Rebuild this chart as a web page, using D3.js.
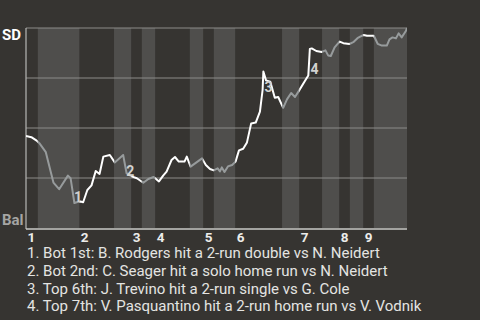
<!DOCTYPE html>
<html>
<head>
<meta charset="utf-8">
<script src="https://cdn.jsdelivr.net/npm/d3@7"></script>
<style>
  html, body { margin: 0; padding: 0; background: #363431; }
  svg { display: block; font-family: Roboto, "Noto Sans", sans-serif; }
</style>
</head>
<body>
<div class="wp-chart"></div>
<script>
// game progress (0-100) and SD win probability at each play
var playX = [0, 1.4, 2.8, 3.5, 5.2, 7.2, 8.7, 11.0, 11.7, 12.7, 13.5, 14.3, 15.0, 16.1, 17.2, 18.3, 19.3, 20.3, 22.0, 23.3,
	25.5, 26.4, 27.7, 29.1, 30.8, 32.1, 33.5, 34.9, 36.0, 36.9, 38.2, 39.1, 40.1, 41.6, 42.2, 43.2, 46.2, 47.2, 48.3, 49.3,
	50.3, 50.9, 51.4, 52.1, 53.0, 54.1, 55.0, 55.9, 57.0, 58.0, 59.1, 60.3, 61.4, 62.1, 62.3, 63.0, 64.1, 65.3, 66.2, 67.5,
	68.5, 69.6, 70.6, 71.5, 73.2, 74.1, 74.5, 75.0, 76.2, 77.6, 78.6, 79.3, 80.0, 81.0, 82.3, 83.3, 84.9, 85.9, 87.0, 87.7,
	88.6, 89.5, 91.3, 92.3, 93.4, 94.7, 95.4, 96.2, 97.1, 97.8, 98.6, 99.7, 100];
var winProb = [0.460, 0.454, 0.437, 0.424, 0.379, 0.227, 0.194, 0.262, 0.249, 0.125, 0.130, 0.132, 0.129, 0.190, 0.213, 0.285, 0.270, 0.357, 0.365, 0.328,
	0.365, 0.274, 0.258, 0.249, 0.226, 0.245, 0.255, 0.233, 0.262, 0.282, 0.340, 0.355, 0.332, 0.332, 0.357, 0.307, 0.348, 0.315, 0.295, 0.288,
	0.298, 0.283, 0.303, 0.280, 0.308, 0.315, 0.332, 0.388, 0.396, 0.428, 0.523, 0.527, 0.582, 0.690, 0.782, 0.738, 0.732, 0.651, 0.655, 0.601,
	0.643, 0.675, 0.655, 0.682, 0.735, 0.763, 0.895, 0.898, 0.885, 0.880, 0.888, 0.863, 0.860, 0.903, 0.932, 0.924, 0.920, 0.929, 0.949, 0.957,
	0.965, 0.961, 0.961, 0.921, 0.912, 0.912, 0.943, 0.953, 0.948, 0.973, 0.953, 0.985, 1.0];

// start of each half inning (top 1st, bot 1st, top 2nd, ...)
var halfStarts = [0, 3.1, 14.0, 23.1, 27.6, 30.4, 33.9, 43.0, 46.5, 49.3, 54.9, 67.2, 71.7, 77.7, 82.2, 85.0, 88.5, 91.3];
var gameEnd = 100;
var innings = ["1", "2", "3", "4", "5", "6", "7", "8", "9"];

var teamTop = "SD", teamBottom = "Bal";
var gridTicks = [0.25, 0.5, 0.75, 1];

// key plays: index of the play where it happened
var eventPlay = [9, 21, 54, 66];
var eventText = [
	"1. Bot 1st: B. Rodgers hit a 2-run double vs N. Neidert",
	"2. Bot 2nd: C. Seager hit a solo home run vs N. Neidert",
	"3. Top 6th: J. Trevino hit a 2-run single vs G. Cole",
	"4. Top 7th: V. Pasquantino hit a 2-run home run vs V. Vodnik"
];

function drawChart() {
	var sel = d3.select(".wp-chart").html("");
	var W = 480, H = 320;
	var margin = {top: 28, left: 26, right: 73, bottom: 92};
	var width = W - margin.left - margin.right;
	var height = H - margin.top - margin.bottom;

	var svg = sel.append("svg").attr("width", W).attr("height", H);

	svg.append("rect").attr("width", W).attr("height", H).attr("fill", "#363431");

	var x = d3.scaleLinear().domain([0, gameEnd]).range([0, width]);
	var y = d3.scaleLinear().domain([0, 1]).range([height, 0]);

	var g = svg.append("g").attr("transform", "translate(" + margin.left + "," + margin.top + ")");

	var halves = halfStarts.map(function(s, i) {
		return {start: s, end: i < halfStarts.length - 1 ? halfStarts[i + 1] : gameEnd, bottom: i % 2 == 1};
	});

	// bands for bottom halves
	g.selectAll("rect.band").data(halves.filter(d => d.bottom)).enter()
		.append("rect").attr("class", "band")
		.attr("x", d => x(d.start))
		.attr("width", d => x(d.end) - x(d.start))
		.attr("y", 0)
		.attr("height", height)
		.attr("fill", "#4f4e4c");

	// grid
	g.selectAll("line.grid").data(gridTicks).enter()
		.append("line").attr("class", "grid")
		.attr("x1", 0).attr("x2", width)
		.attr("y1", d => y(d)).attr("y2", d => y(d))
		.attr("stroke", "#8c8b89").attr("stroke-width", 1);

	// axes
	g.append("line").attr("x1", 0).attr("x2", 0).attr("y1", 0).attr("y2", height + 1)
		.attr("stroke", "#b8b8b6").attr("stroke-width", 1.2);
	g.append("line").attr("x1", 0).attr("x2", width).attr("y1", height + 1).attr("y2", height + 1)
		.attr("stroke", "#c8c8c6").attr("stroke-width", 1.5);

	// clips: top halves white, bottom halves grey
	var defs = svg.append("defs");
	["top", "bot"].forEach(function(k) {
		defs.append("clipPath").attr("id", "clip-" + k)
			.selectAll("rect").data(halves.filter(d => d.bottom == (k == "bot"))).enter()
			.append("rect")
			.attr("x", d => x(d.start))
			.attr("width", d => x(d.end) - x(d.start))
			.attr("y", -5).attr("height", height + 10);
	});

	var pts = playX.map((d, i) => [d, winProb[i]]);
	var line = d3.line().x(d => x(d[0])).y(d => y(d[1]));

	g.append("path").attr("d", line(pts))
		.attr("clip-path", "url(#clip-bot)")
		.attr("fill", "none").attr("stroke", "#979b9c").attr("stroke-width", 2)
		.attr("stroke-linejoin", "round");
	g.append("path").attr("d", line(pts))
		.attr("clip-path", "url(#clip-top)")
		.attr("fill", "none").attr("stroke", "#ffffff").attr("stroke-width", 2)
		.attr("stroke-linejoin", "round");

	// event markers
	g.selectAll("text.ev").data(eventPlay).enter()
		.append("text").attr("class", "ev")
		.attr("x", d => (x(playX[d - 1]) + x(playX[d])) / 2 + 5.5)
		.attr("y", d => (y(winProb[d - 1]) + y(winProb[d])) / 2 + 11.5)
		.attr("text-anchor", "middle")
		.attr("font-size", 14).attr("font-weight", "bold")
		.attr("fill", "#d2d2d0")
		.text((d, i) => i + 1);

	// team labels
	svg.append("text").attr("x", 2).attr("y", margin.top + 11.5)
		.attr("font-size", 15).attr("font-weight", "bold").attr("fill", "#ffffff")
		.text(teamTop);
	svg.append("text").attr("x", 2).attr("y", margin.top + height - 3)
		.attr("font-size", 15).attr("font-weight", "bold").attr("fill", "#a5a5a3")
		.text(teamBottom);

	// inning labels
	g.selectAll("text.inn").data(innings).enter()
		.append("text").attr("class", "inn")
		.attr("x", (d, i) => x(halfStarts[i * 2]) + 1.5)
		.attr("y", height + 14)
		.attr("font-size", 13.5).attr("font-weight", "bold")
		.attr("fill", "#ececea")
		.text(d => d);

	// event list
	svg.selectAll("text.list").data(eventText).enter()
		.append("text").attr("class", "list")
		.attr("x", 27)
		.attr("y", (d, i) => 258 + i * 17.8)
		.attr("font-size", 15)
		.attr("fill", "#e4e4e2")
		.text(d => d);
}

drawChart();
</script>
</body>
</html>
